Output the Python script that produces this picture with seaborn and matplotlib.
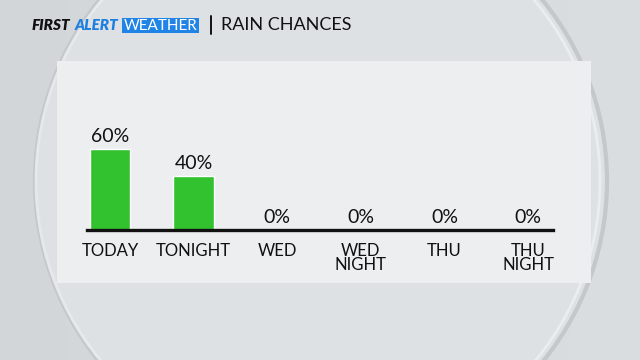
import numpy as np
import pandas as pd
import matplotlib
matplotlib.use("Agg")
import matplotlib.pyplot as plt
from matplotlib.patches import Circle, Rectangle
import seaborn as sns

# ---- data ----
categories = ["TODAY", "TONIGHT", "WED", "WED\nNIGHT", "THU", "THU\nNIGHT"]
rain_chance = [60, 40, 0, 0, 0, 0]
value_labels = [f"{v}%" for v in rain_chance]

title_brand_1 = "FIRST"
title_brand_2 = "ALERT"
title_brand_3 = "WEATHER"
title_text = "RAIN CHANCES"

sns.set_theme(style="white")
plt.rcParams["font.family"] = ["Lato", "DejaVu Sans"]

W, H = 640, 360
fig = plt.figure(figsize=(6.4, 3.6), dpi=100)

# ---- background ----
bg = fig.add_axes([0, 0, 1, 1])
bg.set_xlim(0, W)
bg.set_ylim(H, 0)
bg.axis("off")
yy, xx = np.mgrid[0:H, 0:W]
grad = 0.83 + 0.03 * (xx / W)
bg.imshow(np.dstack([grad - 0.005, grad + 0.01, grad + 0.02]).clip(0, 1),
          extent=[0, W, H, 0], aspect="auto", zorder=0)
cx, cy, r = 321, 181, 286
bg.add_patch(Circle((cx, cy), r, facecolor="#dde1e3", edgecolor="none", zorder=1))
bg.add_patch(Circle((cx, cy), r, facecolor="none", edgecolor="#c4c8ca", lw=3, zorder=1))
bg.add_patch(Circle((cx - 3, cy), r - 4, facecolor="none", edgecolor="#eef1f3", lw=2, alpha=0.8, zorder=1))
bg.add_patch(Rectangle((57, 61), 534, 222, facecolor="#eceef0", edgecolor="none", zorder=2))

# ---- header ----
hy = 25.5
t1 = bg.text(32, hy, title_brand_1, fontsize=11, fontweight="heavy", style="italic",
             color="#111111", va="center", ha="left", zorder=5)
fig.canvas.draw()
ext = t1.get_window_extent()
x_end = ext.x1
bg.text(x_end + 4, hy, title_brand_2, fontsize=11, fontweight="heavy", style="italic",
        color="#1f7fe0", va="center", ha="left", zorder=5)
bg.add_patch(Rectangle((122, 18), 77, 14.5, facecolor="#1f84e6", edgecolor="none", zorder=4))
bg.text(160.5, hy, title_brand_3, fontsize=11, color="white", va="center",
        ha="center", zorder=5)
bg.plot([211, 211], [16, 34], color="#111111", lw=1.4, zorder=5)
bg.text(221, hy, title_text, fontsize=13, color="#111111", va="center",
        ha="left", zorder=5)

# ---- chart ----
df = pd.DataFrame({"period": categories, "chance": rain_chance})
step = 83.6
left_px = 110 - step / 2
ax = fig.add_axes([left_px / W, 130 / H, 6 * step / W, 135 / H])
ax.patch.set_alpha(0)
sns.barplot(data=df, x="period", y="chance", color="#33c22f", width=0.49,
            saturation=1, ax=ax, zorder=3)
ax.set_xlim(-0.5, 5.5)
ax.set_ylim(0, 100)
ax.set_xlabel("")
ax.set_ylabel("")
ax.set_yticks([])
for s in ["top", "right", "left"]:
    ax.spines[s].set_visible(False)
ax.spines["bottom"].set_bounds(-0.28, 5.3)
ax.spines["bottom"].set_linewidth(2.4)
ax.spines["bottom"].set_color("#111111")
ax.spines["bottom"].set_zorder(4)
ax.tick_params(axis="x", length=0, pad=9, labelsize=12, labelcolor="#111111")
for t in ax.get_xticklabels():
    t.set_linespacing(0.9)
    t.set_va("top")
ax.bar_label(ax.containers[0], labels=value_labels, padding=3, fontsize=14,
             color="#111111")

fig.savefig("out.png", dpi=100)
